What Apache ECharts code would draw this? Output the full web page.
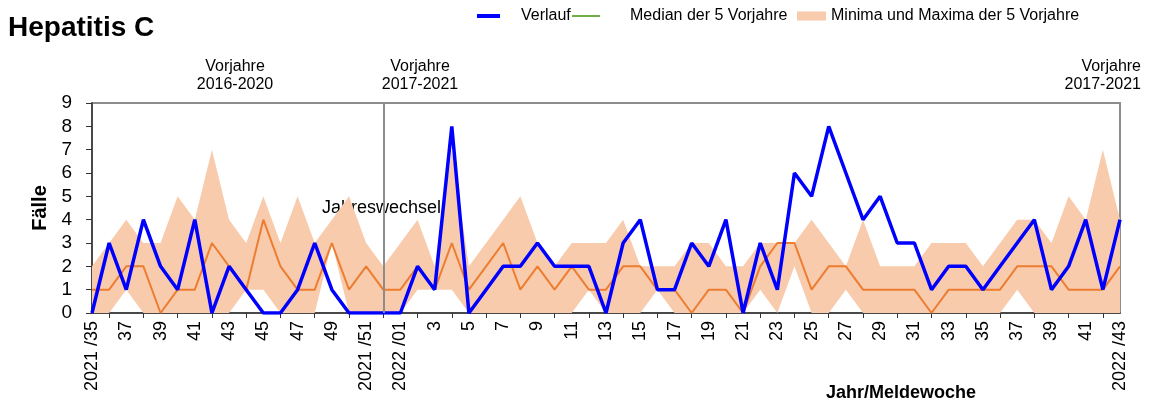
<!DOCTYPE html>
<html>
<head>
<meta charset="utf-8">
<script src="https://cdn.jsdelivr.net/npm/echarts@6/dist/echarts.min.js"></script>
<style>
  html, body { margin: 0; padding: 0; background: #fff; }
  #chart { width: 1152px; height: 407px; }
</style>
</head>
<body>
<div id="chart"></div>
<script>
// Meldewochen 2021/35 .. 2022/43
var categories = [
  '2021/35','2021/36','2021/37','2021/38','2021/39','2021/40','2021/41','2021/42','2021/43','2021/44',
  '2021/45','2021/46','2021/47','2021/48','2021/49','2021/50','2021/51','2021/52',
  '2022/01','2022/02','2022/03','2022/04','2022/05','2022/06','2022/07','2022/08','2022/09','2022/10',
  '2022/11','2022/12','2022/13','2022/14','2022/15','2022/16','2022/17','2022/18','2022/19','2022/20',
  '2022/21','2022/22','2022/23','2022/24','2022/25','2022/26','2022/27','2022/28','2022/29','2022/30',
  '2022/31','2022/32','2022/33','2022/34','2022/35','2022/36','2022/37','2022/38','2022/39','2022/40',
  '2022/41','2022/42','2022/43'
];
// labels shown with year
var fullLabels = ['2021/35', '2021/51', '2022/01', '2022/43'];

var verlauf = [
  0,3,1,4,2,1,4,0,2,1,0,0,1,3,1,0,0,0,
  0,2,1,8,0,1,2,2,3,2,2,2,0,3,4,1,1,3,
  2,4,0,3,1,6,5,8,6,4,5,3,3,1,2,2,1,
  2,3,4,1,2,4,1,4
];
var median = [
  1,1,2,2,0,1,1,3,2,1,4,2,1,1,3,1,2,1,
  1,2,1,3,1,2,3,1,2,1,2,1,1,2,2,1,1,0,
  1,1,0,2,3,3,1,2,2,1,1,1,1,0,1,1,1,
  1,2,2,2,1,1,1,2
];
var minimum = [
  0,0,1,0,0,0,0,0,0,1,1,0,0,0,3,0,0,0,
  0,1,1,1,0,0,0,0,0,0,0,1,0,0,0,1,0,0,
  0,0,0,1,0,2,0,0,1,0,0,0,0,0,0,0,0,
  0,1,0,0,0,0,0,0
];
var maximum = [
  2,3,4,3,3,5,4,7,4,3,5,3,5,3,4,5,3,2,
  3,4,2,7,2,3,4,5,3,2,3,3,3,4,2,2,2,3,
  3,2,2,3,3,3,4,3,2,4,2,2,2,3,3,3,2,
  3,4,4,3,5,4,7,4
];
var yearChangeIndex = 17;

var spread = maximum.map(function (v, i) { return v - minimum[i]; });

var font = "'Liberation Sans', Arial, sans-serif";
var chart = echarts.init(document.getElementById('chart'));

chart.setOption({
  animation: false,
  textStyle: { fontFamily: font },
  title: {
    text: 'Hepatitis C',
    left: 8, top: 14, padding: 0,
    textStyle: { fontFamily: font, fontSize: 28, fontWeight: 'bold', color: '#000' }
  },
  legend: [
    {
      left: 477, top: 8, padding: 0,
      icon: 'rect', itemWidth: 23, itemHeight: 4,
      textStyle: { fontFamily: font, fontSize: 16, color: '#000', padding: [0, 0, 0, 16] },
      data: [{ name: 'Verlauf', itemStyle: { color: '#0000ff' } }]
    },
    {
      left: 572, top: 8, padding: 0,
      icon: 'rect', itemWidth: 28, itemHeight: 2,
      textStyle: { fontFamily: font, fontSize: 16, color: '#000', padding: [0, 0, 0, 25] },
      data: [{ name: 'Median der 5 Vorjahre', itemStyle: { color: '#70ad47' } }]
    },
    {
      left: 797, top: 8, padding: 0,
      icon: 'rect', itemWidth: 29, itemHeight: 9,
      textStyle: { fontFamily: font, fontSize: 16, color: '#000' },
      data: [{ name: 'Minima und Maxima der 5 Vorjahre', itemStyle: { color: '#f8cbad' } }]
    }
  ],
  grid: {
    left: 92, right: 32, top: 103, bottom: 94,
    show: true, borderColor: '#8c8c8c', borderWidth: 2, backgroundColor: 'transparent'
  },
  xAxis: {
    type: 'category',
    data: categories,
    boundaryGap: false,
    axisLine: { lineStyle: { color: '#333', width: 1.5 } },
    axisTick: {
      length: 5,
      lineStyle: { color: '#333' },
      interval: function (index) { return index % 2 === 1; }
    },
    axisLabel: {
      interval: 1,
      rotate: 90,
      margin: 8,
      fontFamily: font,
      fontSize: 18,
      color: '#000',
      formatter: function (value) {
        if (fullLabels.indexOf(value) >= 0) return value.replace('/', ' /');
        return String(parseInt(value.split('/')[1], 10));
      }
    },
    splitLine: { show: false }
  },
  yAxis: {
    type: 'value',
    min: 0, max: 9, interval: 1,
    name: 'Fälle',
    nameLocation: 'middle',
    nameRotate: 90,
    nameGap: 42,
    nameTextStyle: { fontFamily: font, fontSize: 20, fontWeight: 'bold', color: '#000' },
    axisLine: { show: true, lineStyle: { color: '#333', width: 1.5 } },
    axisTick: { show: true, length: 6, lineStyle: { color: '#333' } },
    axisLabel: { fontFamily: font, fontSize: 19, color: '#000', margin: 20 },
    splitLine: { show: false }
  },
  series: [
    {
      name: 'min',
      type: 'line',
      stack: 'band',
      data: minimum,
      symbol: 'none',
      lineStyle: { width: 0, opacity: 0 },
      silent: true
    },
    {
      name: 'Minima und Maxima der 5 Vorjahre',
      type: 'line',
      stack: 'band',
      data: spread,
      symbol: 'none',
      lineStyle: { width: 0, opacity: 0 },
      itemStyle: { color: '#f8cbad' },
      areaStyle: { color: '#f8cbad', opacity: 1 }
    },
    {
      name: 'Median der 5 Vorjahre',
      type: 'line',
      data: median,
      symbol: 'none',
      itemStyle: { color: '#ed7d31' },
      lineStyle: { color: '#ed7d31', width: 2 }
    },
    {
      name: 'Verlauf',
      type: 'line',
      data: verlauf,
      symbol: 'none',
      itemStyle: { color: '#0000ff' },
      lineStyle: { color: '#0000ff', width: 3.5 },
      markLine: {
        silent: true,
        symbol: 'none',
        label: { show: false },
        lineStyle: { color: '#8c8c8c', width: 2, type: 'solid' },
        data: [{ xAxis: yearChangeIndex }]
      }
    }
  ],
  graphic: [
    {
      type: 'text', x: 235, y: 58,
      style: { text: 'Vorjahre\n2016-2020', font: '16px ' + font, fill: '#000', align: 'center', verticalAlign: 'top', lineHeight: 18 }
    },
    {
      type: 'text', x: 420, y: 58,
      style: { text: 'Vorjahre\n2017-2021', font: '16px ' + font, fill: '#000', align: 'center', verticalAlign: 'top', lineHeight: 18 }
    },
    {
      type: 'text', x: 1141, y: 58,
      style: { text: 'Vorjahre\n2017-2021', font: '16px ' + font, fill: '#000', align: 'right', verticalAlign: 'top', lineHeight: 18 }
    },
    {
      type: 'text', x: 322, y: 199,
      style: { text: 'Jahreswechsel', font: '18px ' + font, fill: '#000' }
    },
    {
      type: 'text', x: 826, y: 384,
      style: { text: 'Jahr/Meldewoche', font: 'bold 18px ' + font, fill: '#000' }
    }
  ]
});
</script>
</body>
</html>
